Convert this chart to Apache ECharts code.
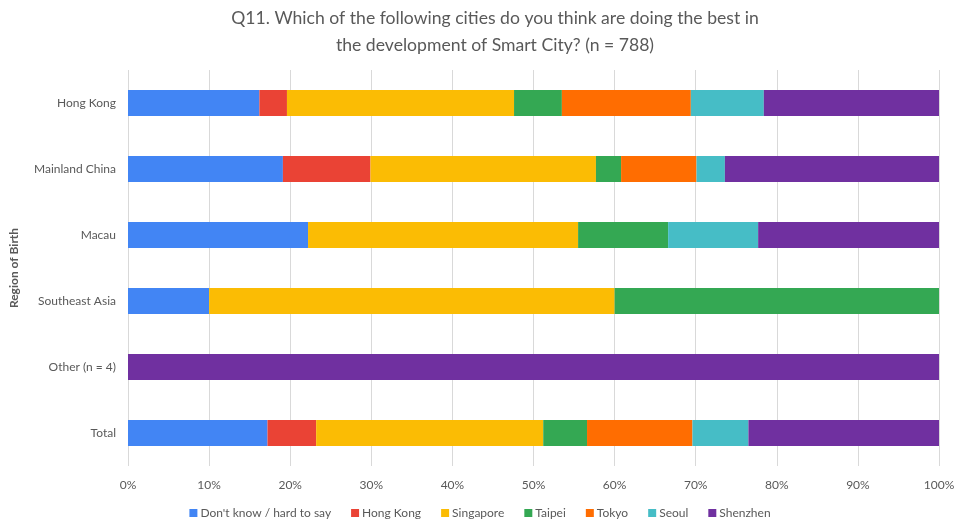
<!DOCTYPE html>
<html>
<head>
<meta charset="utf-8">
<script src="https://cdn.jsdelivr.net/npm/echarts@6/dist/echarts.min.js"></script>
<style>
  html, body { margin: 0; padding: 0; background: #fff; }
  #chart { width: 960px; height: 525px; }
</style>
</head>
<body>
<div id="chart"></div>
<script>
// Regions of birth, top to bottom
const regions = ['Hong Kong', 'Mainland China', 'Macau', 'Southeast Asia', 'Other (n = 4)', 'Total'];

// Share of answers (%) for each city, per region
const dontKnow  = [16.2, 19.1, 22.2, 10.0, 0, 17.2];
const hongKong  = [3.4, 10.8, 0, 0, 0, 6.0];
const singapore = [28.0, 27.8, 33.3, 50.0, 0, 28.0];
const taipei    = [5.9, 3.1, 11.1, 40.0, 0, 5.4];
const tokyo     = [15.9, 9.3, 0, 0, 0, 13.0];
const seoul     = [9.0, 3.5, 11.1, 0, 0, 6.9];
const shenzhen  = [21.6, 26.4, 22.3, 0, 100, 23.5];

const xTicks = [0, 10, 20, 30, 40, 50, 60, 70, 80, 90, 100];

const seriesDefs = [
  { name: "Don't know / hard to say", data: dontKnow,  color: '#4285F4' },
  { name: 'Hong Kong',                data: hongKong,  color: '#EA4335' },
  { name: 'Singapore',                data: singapore, color: '#FBBC04' },
  { name: 'Taipei',                   data: taipei,    color: '#34A853' },
  { name: 'Tokyo',                    data: tokyo,     color: '#FF6D01' },
  { name: 'Seoul',                    data: seoul,     color: '#46BDC6' },
  { name: 'Shenzhen',                 data: shenzhen,  color: '#7030A0' }
];

const font = 'Lato, "Open Sans", sans-serif';
const grey = '#595959';

const chart = echarts.init(document.getElementById('chart'), null, { renderer: 'canvas' });
chart.setOption({
  animation: false,
  backgroundColor: '#ffffff',
  title: {
    text: 'Q11. Which of the following cities do you think are doing the best in\nthe development of Smart City? (n = 788)',
    left: 490,
    top: 0,
    textAlign: 'center',
    textStyle: { fontFamily: font, fontSize: 17.6, fontWeight: 'normal', color: grey, lineHeight: 27 }
  },
  legend: {
    bottom: 1,
    left: 'center',
    itemWidth: 8,
    itemHeight: 8,
    itemGap: 20,
    icon: 'rect',
    textStyle: { fontFamily: font, fontSize: 12, color: grey, padding: [0, 0, 0, -2] },
    data: seriesDefs.map(s => s.name)
  },
  grid: { left: 127, right: 21, top: 70, bottom: 59, containLabel: false },
  xAxis: {
    type: 'value',
    min: 0,
    max: 100,
    interval: 10,
    axisLine: { show: false },
    axisTick: { show: false },
    splitLine: { show: true, lineStyle: { color: '#d9d9d9', width: 1 } },
    axisLabel: {
      color: grey, fontFamily: font, fontSize: 12, margin: 13,
      formatter: v => (xTicks.indexOf(v) >= 0 ? v + '%' : '')
    }
  },
  yAxis: {
    type: 'category',
    data: regions,
    inverse: true,
    name: 'Region of Birth',
    nameLocation: 'middle',
    nameGap: 108,
    nameRotate: 90,
    nameTextStyle: { color: grey, fontFamily: font, fontSize: 12, fontWeight: 'bold' },
    axisLine: { show: false },
    axisTick: { show: false },
    axisLabel: { color: grey, fontFamily: font, fontSize: 12, margin: 12 }
  },
  series: seriesDefs.map(s => ({
    name: s.name,
    type: 'bar',
    stack: 'total',
    data: s.data,
    barWidth: 26,
    itemStyle: { color: s.color },
    emphasis: { disabled: true }
  }))
});
</script>
</body>
</html>
